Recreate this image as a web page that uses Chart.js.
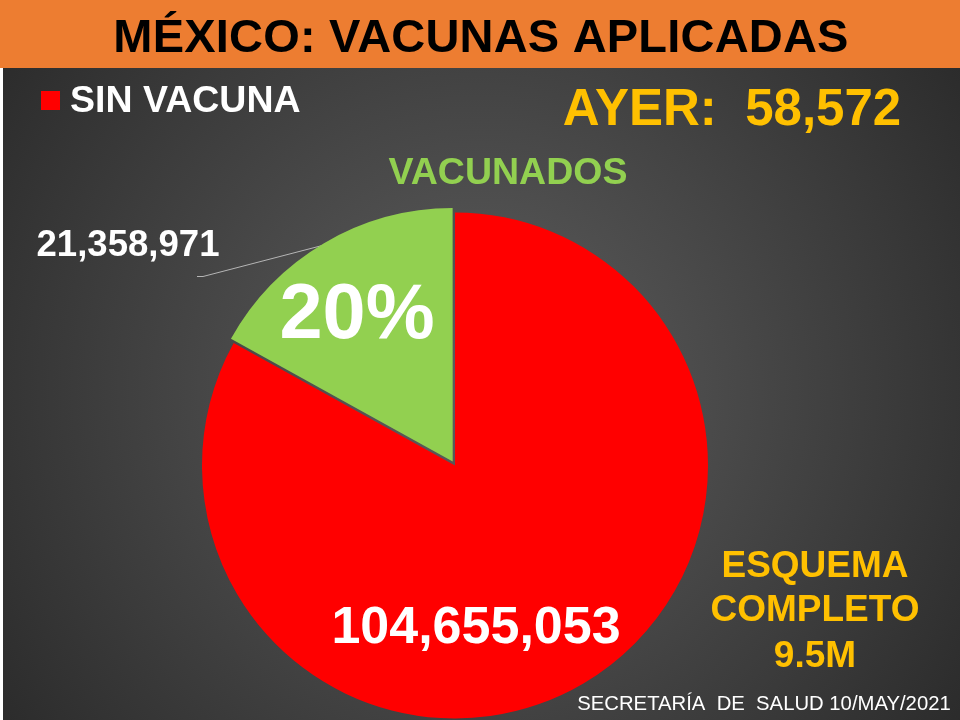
<!DOCTYPE html>
<html>
<head>
<meta charset="utf-8">
<title>México: vacunas aplicadas</title>
<script src="https://cdn.jsdelivr.net/npm/chart.js@4/dist/chart.umd.min.js"></script>
<style>
  html, body { margin: 0; padding: 0; background: #fff; }
  #wrap { position: relative; width: 960px; height: 720px; overflow: hidden; }
  canvas { display: block; }
</style>
</head>
<body>
<div id="wrap"><canvas id="pie" width="960" height="720"></canvas></div>
<script>
  const categories = ["SIN VACUNA", "VACUNADOS"];
  const doses = [104655053, 21358971];
  const sliceColors = ["#ff0000", "#92d050"];

  const FONT = '"Liberation Sans", Arial, sans-serif';
  const GOLD = "#ffc000";

  // text, x, baseline y, size, colour, weight, align, letter spacing
  const texts = [
    ["MÉXICO: VACUNAS APLICADAS", 481, 52, 47, "#000000", "bold", "center", 0.2],
    ["AYER:  58,572", 732, 125, 51, GOLD, "bold", "center", 0],
    ["VACUNADOS", 508, 184, 37.5, "#92d050", "bold", "center", 0],
    ["21,358,971", 128, 256, 36.6, "#ffffff", "bold", "center", 0],
    ["20%", 357, 338, 77.5, "#ffffff", "bold", "center", 0],
    ["104,655,053", 476, 643, 52, "#ffffff", "bold", "center", 0],
    ["ESQUEMA", 815, 577, 37, GOLD, "bold", "center", 0],
    ["COMPLETO", 815, 621, 37, GOLD, "bold", "center", 0],
    ["9.5M", 815, 667, 37, GOLD, "bold", "center", 0],
    ["SECRETARÍA  DE  SALUD 10/MAY/2021", 764, 710, 20.3, "#ffffff", "normal", "center", 0],
  ];

  const slideBackground = {
    id: "slideBackground",
    beforeDraw(chart) {
      const ctx = chart.ctx;
      ctx.save();
      ctx.fillStyle = "#ffffff";
      ctx.fillRect(0, 0, 960, 720);
      const grad = ctx.createRadialGradient(480, 390, 30, 480, 390, 600);
      grad.addColorStop(0, "#5c5c5c");
      grad.addColorStop(1, "#2a2a2a");
      ctx.fillStyle = grad;
      ctx.fillRect(3, 68, 957, 652);
      ctx.fillStyle = "#ed7d31";
      ctx.fillRect(0, 0, 960, 68);
      ctx.restore();
    },
    beforeDatasetsDraw(chart) {
      // leader line for the vaccinated label
      const ctx = chart.ctx;
      ctx.save();
      ctx.strokeStyle = "#b5b5b5";
      ctx.lineWidth = 1;
      ctx.beginPath();
      ctx.moveTo(197, 276.5);
      ctx.lineTo(203, 276.5);
      ctx.lineTo(328, 244);
      ctx.stroke();
      ctx.restore();
    },
  };

  const slideText = {
    id: "slideText",
    afterDraw(chart) {
      const ctx = chart.ctx;
      ctx.save();
      // legend, only the first slice is listed
      ctx.fillStyle = sliceColors[0];
      ctx.fillRect(41, 91, 19, 19);
      ctx.fillStyle = "#ffffff";
      ctx.font = "bold 37.5px " + FONT;
      ctx.textAlign = "left";
      ctx.fillText(categories[0], 70, 112);

      texts.forEach(([text, x, y, size, color, weight, align, spacing]) => {
        ctx.font = weight + " " + size + "px " + FONT;
        ctx.fillStyle = color;
        ctx.textAlign = align;
        ctx.letterSpacing = spacing + "px";
        ctx.fillText(text, x, y);
      });
      ctx.restore();
    },
  };

  new Chart(document.getElementById("pie"), {
    type: "pie",
    data: {
      labels: categories,
      datasets: [{
        data: doses,
        backgroundColor: sliceColors,
        borderWidth: 0,
        offset: [0, 18],
        radius: 253,
      }],
    },
    options: {
      responsive: false,
      animation: false,
      layout: { padding: { left: 192, right: 242, top: 213, bottom: 2 } },
      plugins: {
        legend: { display: false },
        tooltip: { enabled: false },
      },
    },
    plugins: [slideBackground, slideText],
  });
</script>
</body>
</html>
